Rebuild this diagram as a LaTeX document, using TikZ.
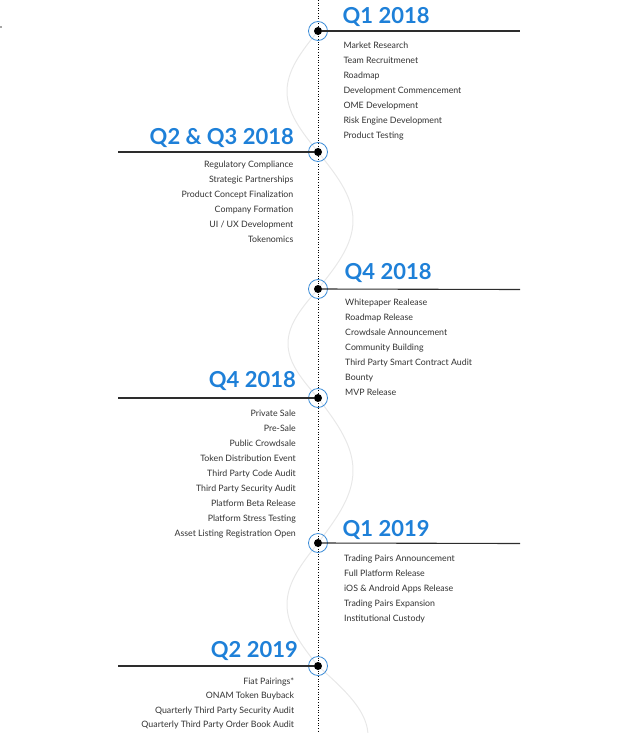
\documentclass[tikz,border=0pt]{standalone}
\usepackage{fontspec}
\setmainfont{Lato}
\definecolor{qblue}{RGB}{30,128,216}
\definecolor{ringblue}{RGB}{60,140,215}
\definecolor{itemgray}{RGB}{50,50,50}
\definecolor{linegray}{RGB}{45,45,45}
\definecolor{wavegray}{RGB}{232,232,232}
\begin{document}
\begin{tikzpicture}[x=1pt,y=-1pt,
  title/.style={font=\fontsize{22}{24}\selectfont\bfseries, text=qblue, inner sep=0pt},
  itemtxt/.style={font=\fontsize{8.8}{11}\selectfont, text=itemgray, inner sep=0pt},
  ring/.style={circle, draw=ringblue, line width=0.8pt, minimum size=19pt, inner sep=0pt},
  blackdot/.style={circle, fill=black, minimum size=8pt, inner sep=0pt},
  hline/.style={draw=linegray, line width=1.1pt},
  axis/.style={draw=black, line width=0.9pt, dash pattern=on 1pt off 1.6pt},
  wave/.style={draw=wavegray, line width=1pt}]
\useasboundingbox (0,0) rectangle (639,733);
\fill[gray!70] (0,26) rectangle (2,28);
% wave
\draw[wave] plot[domain=31:152, samples=40] ({318-31*sin((\x-31)/121*180)}, \x);
\draw[wave] plot[domain=152:289, samples=40] ({318+35*sin((\x-152)/137*180)}, \x);
\draw[wave] plot[domain=289:398, samples=40] ({318-30*sin((\x-289)/109*180)}, \x);
\draw[wave] plot[domain=398:543, samples=40] ({318+35*sin((\x-398)/145*180)}, \x);
\draw[wave] plot[domain=543:666, samples=40] ({318-31*sin((\x-543)/123*180)}, \x);
\draw[wave] plot[domain=666:733, samples=30] ({318+50*sin((\x-666)/140*180)}, \x);
% axis
\coordinate (top) at (318,0);
\coordinate (bot) at (318,733);
\draw[axis] (top) -- (bot);
% milestones
\foreach \n/\y in {1/31,2/152,3/289,4/398,5/543,6/666}{
  \node[ring] (m\n) at (318,\y) {};
  \node[blackdot] (d\n) at (318,\y) {};
}
\coordinate (e1) at (520,31);
\coordinate (e2) at (117.5,152);
\coordinate (e3) at (520,289.5);
\coordinate (e4) at (117.5,398);
\coordinate (e5) at (520,543.5);
\coordinate (e6) at (117.5,666);
\foreach \n in {1,...,6}{ \draw[hline] (d\n) -- (e\n); }
% titles
\node[title, anchor=base west] (t1) at (342.5,23.5) {Q1 2018};
\node[title, anchor=base east] (t2) at (294,144) {Q2 \& Q3 2018};
\node[title, anchor=base west] (t3) at (344.5,279.5) {Q4 2018};
\node[title, anchor=base east] (t4) at (296,387) {Q4 2018};
\node[title, anchor=base west] (t5) at (342.5,536) {Q1 2019};
\node[title, anchor=base east] (t6) at (298,657) {Q2 2019};
% items
\foreach \t [count=\k] in {Market Research, Team Recruitmenet, Roadmap, Development Commencement, OME Development, Risk Engine Development, Product Testing}
  \node[itemtxt, anchor=base west] (a\k) at (343.3,{49+15*(\k-1)}) {\t};
\foreach \t [count=\k] in {Regulatory Compliance, Strategic Partnerships, Product Concept Finalization, Company Formation, UI / UX Development, Tokenomics}
  \node[itemtxt, anchor=base east] (b\k) at (293.5,{167+15*(\k-1)}) {\t};
\foreach \t [count=\k] in {Whitepaper Realease, Roadmap Release, Crowdsale Announcement, Community Building, Third Party Smart Contract Audit, Bounty, MVP Release}
  \node[itemtxt, anchor=base west] (c\k) at (345,{305.3+15*(\k-1)}) {\t};
\foreach \t [count=\k] in {Private Sale, Pre-Sale, Public Crowdsale, Token Distribution Event, Third Party Code Audit, Third Party Security Audit, Platform Beta Release, Platform Stress Testing, Asset Listing Registration Open}
  \node[itemtxt, anchor=base east] (f\k) at (296,{416.5+15*(\k-1)}) {\t};
\foreach \t [count=\k] in {Trading Pairs Announcement, Full Platform Release, iOS \& Android Apps Release, Trading Pairs Expansion, Institutional Custody}
  \node[itemtxt, anchor=base west] (g\k) at (344,{561.7+15*(\k-1)}) {\t};
\foreach \t [count=\k] in {Fiat Pairings*, ONAM Token Buyback, Quarterly Third Party Security Audit, Quarterly Third Party Order Book Audit}
  \node[itemtxt, anchor=base east] (h\k) at (294.3,{684.3+14.5*(\k-1)}) {\t};
\end{tikzpicture}
\end{document}
